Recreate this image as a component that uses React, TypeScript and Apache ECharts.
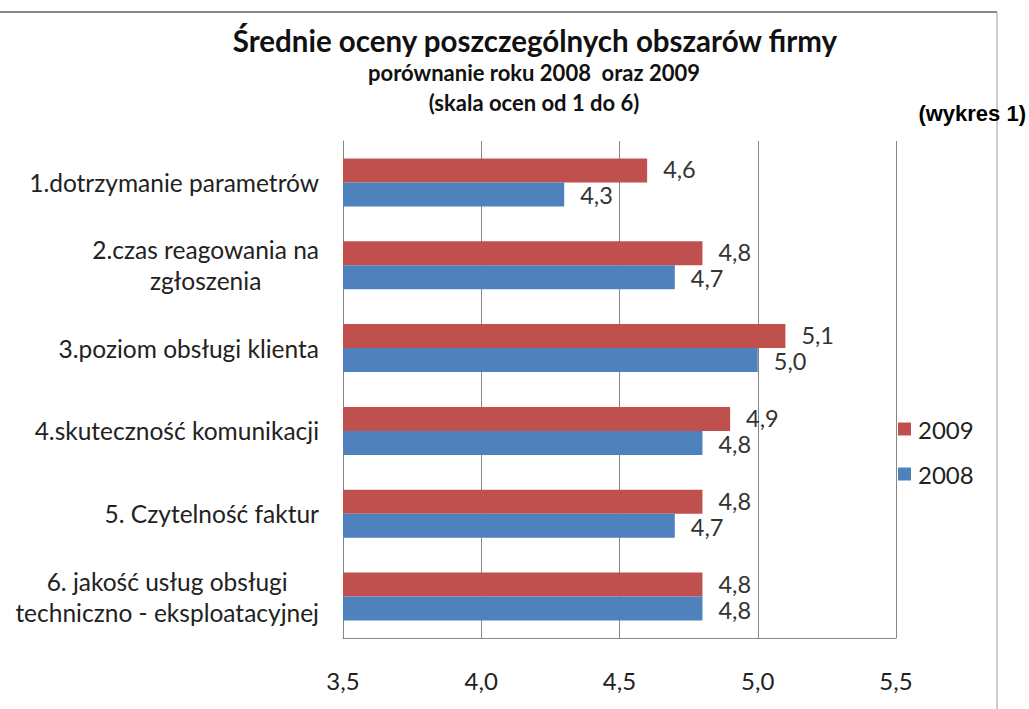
import React, { useEffect, useRef } from "react";
import * as echarts from "echarts";

const categories = [
  "1.dotrzymanie parametrów",
  "2.czas reagowania na\nzgłoszenia",
  "3.poziom obsługi klienta",
  "4.skuteczność komunikacji",
  "5. Czytelność faktur",
  "6. jakość usług obsługi\ntechniczno - eksploatacyjnej",
];
const values2009 = [4.6, 4.8, 5.1, 4.9, 4.8, 4.8];
const values2008 = [4.3, 4.7, 5.0, 4.8, 4.7, 4.8];
const seriesNames = ["2009", "2008"];
const titleLines = [
  "Średnie oceny poszczególnych obszarów firmy",
  "porównanie roku 2008  oraz 2009",
  "(skala ocen od 1 do 6)",
];
const noteText = "(wykres 1)";

const FONT = "Lato, 'Open Sans', sans-serif";
const comma = (v: number) => v.toFixed(1).replace(".", ",");

export default function App() {
  const ref = useRef<HTMLDivElement>(null);
  useEffect(() => {
    if (!ref.current) return;
    const chart = echarts.init(ref.current, undefined, { renderer: "svg" });
    const labelStyle = (dy: number) => ({
      show: true,
      position: "right",
      distance: 16,
      offset: [0, dy],
      fontSize: 23.5,
      lineHeight: 20,
      color: "#333",
      fontFamily: FONT,
      formatter: (p: any) => comma(p.value),
    });
    chart.setOption({
      animation: false,
      backgroundColor: "#ffffff",
      textStyle: { fontFamily: FONT },
      grid: { left: 343, right: 133, top: 141, height: 497, containLabel: false },
      legend: {
        data: seriesNames,
        orient: "vertical",
        left: 898,
        top: 417,
        padding: 0,
        itemWidth: 13,
        itemHeight: 13,
        itemGap: 21,
        icon: "rect",
        textStyle: { fontSize: 24, color: "#222", fontFamily: FONT, padding: [0, 0, 0, 2] },
      },
      xAxis: {
        type: "value",
        min: 3.5,
        max: 5.5,
        interval: 0.5,
        axisLine: { show: true, lineStyle: { color: "#868686" } },
        axisTick: { show: false },
        splitLine: { show: true, lineStyle: { color: "#868686" } },
        axisLabel: {
          margin: 30,
          fontSize: 24,
          color: "#222",
          fontFamily: FONT,
          formatter: (v: number) => comma(v),
        },
      },
      yAxis: {
        type: "category",
        inverse: true,
        data: categories,
        axisLine: { show: true, lineStyle: { color: "#868686" } },
        axisTick: { show: false },
        axisLabel: {
          margin: 24,
          color: "#222",
          formatter: (v: string) =>
            v
              .split("\n")
              .map((l) => `{c|${l}}`)
              .join("\n"),
          rich: {
            c: {
              align: "center",
              fontSize: 24.5,
              lineHeight: 31,
              color: "#222",
              fontFamily: FONT,
            },
          },
        },
      },
      series: [
        {
          name: seriesNames[0],
          type: "bar",
          data: values2009,
          barWidth: 24,
          barGap: "0%",
          itemStyle: { color: "#C0504D" },
          label: labelStyle(-1),
        },
        {
          name: seriesNames[1],
          type: "bar",
          data: values2008,
          barWidth: 24,
          barGap: "0%",
          itemStyle: { color: "#4F81BD" },
          label: labelStyle(1),
        },
      ],
      graphic: [
        {
          type: "line",
          shape: { x1: 0, y1: 12, x2: 997, y2: 12 },
          style: { stroke: "#8a8a8a", lineWidth: 2 },
        },
        {
          type: "line",
          shape: { x1: 997, y1: 12, x2: 997, y2: 709 },
          style: { stroke: "#9a9a9a", lineWidth: 1 },
        },
        {
          type: "text",
          x: 535,
          y: 40,
          style: {
            text: titleLines[0],
            align: "center",
            verticalAlign: "middle",
            fontSize: 29.5,
            fontWeight: "bold",
            fontFamily: FONT,
            fill: "#111",
          },
        },
        {
          type: "text",
          x: 534,
          y: 72,
          style: {
            text: titleLines[1],
            align: "center",
            verticalAlign: "middle",
            fontSize: 22,
            fontWeight: "bold",
            fontFamily: FONT,
            fill: "#111",
          },
        },
        {
          type: "text",
          x: 534,
          y: 102,
          style: {
            text: titleLines[2],
            align: "center",
            verticalAlign: "middle",
            fontSize: 22,
            fontWeight: "bold",
            fontFamily: FONT,
            fill: "#111",
          },
        },
        {
          type: "text",
          x: 1026,
          y: 113,
          style: {
            text: noteText,
            align: "right",
            verticalAlign: "middle",
            fontSize: 22,
            fontWeight: "bold",
            fontFamily: "'Liberation Sans Narrow', 'Liberation Sans', Arial, sans-serif",
            fill: "#000",
          },
        },
      ],
    });
    return () => chart.dispose();
  }, []);
  return (
    <div
      ref={ref}
      style={{ position: "fixed", left: 0, top: 0, width: 1029, height: 709 }}
    />
  );
}
